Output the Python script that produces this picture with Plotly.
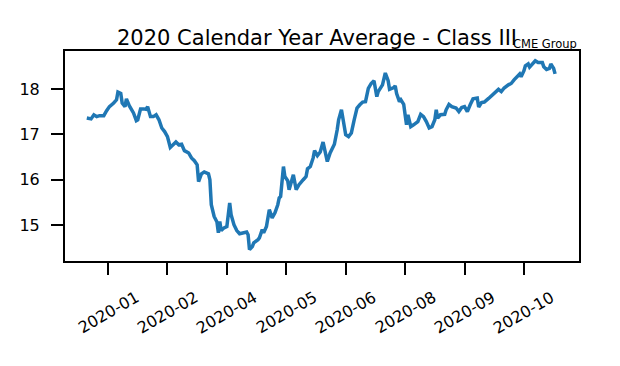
import plotly.graph_objects as go
import pandas as pd

dates = [
    "2019-12-24", "2019-12-27", "2019-12-29", "2019-12-31", "2020-01-02", "2020-01-05", "2020-01-07",
    "2020-01-09", "2020-01-12", "2020-01-14", "2020-01-15", "2020-01-17", "2020-01-18", "2020-01-20",
    "2020-01-21", "2020-01-23", "2020-01-26", "2020-01-28", "2020-01-29", "2020-01-31", "2020-02-02",
    "2020-02-04", "2020-02-05", "2020-02-07", "2020-02-09", "2020-02-11", "2020-02-13", "2020-02-15",
    "2020-02-17", "2020-02-19", "2020-02-21", "2020-02-23", "2020-02-25", "2020-02-27", "2020-02-29",
    "2020-03-02", "2020-03-05", "2020-03-07", "2020-03-09", "2020-03-11", "2020-03-12", "2020-03-14",
    "2020-03-16", "2020-03-19", "2020-03-20", "2020-03-21", "2020-03-23", "2020-03-25", "2020-03-26",
    "2020-03-27", "2020-03-28", "2020-03-30", "2020-04-01", "2020-04-03", "2020-04-04", "2020-04-06",
    "2020-04-08", "2020-04-10", "2020-04-13", "2020-04-15", "2020-04-16", "2020-04-17", "2020-04-19",
    "2020-04-20", "2020-04-23", "2020-04-24", "2020-04-26", "2020-04-27", "2020-04-29", "2020-05-01",
    "2020-05-03", "2020-05-05", "2020-05-07", "2020-05-08", "2020-05-09", "2020-05-11", "2020-05-12",
    "2020-05-14", "2020-05-15", "2020-05-18", "2020-05-20", "2020-05-22", "2020-05-25", "2020-05-27",
    "2020-05-28", "2020-05-30", "2020-06-01", "2020-06-02", "2020-06-04", "2020-06-06", "2020-06-08",
    "2020-06-09", "2020-06-11", "2020-06-13", "2020-06-15", "2020-06-16", "2020-06-18", "2020-06-19",
    "2020-06-21", "2020-06-22", "2020-06-24", "2020-06-26", "2020-06-28", "2020-06-30", "2020-07-02",
    "2020-07-04", "2020-07-06", "2020-07-08", "2020-07-10", "2020-07-12", "2020-07-14", "2020-07-16",
    "2020-07-17", "2020-07-20", "2020-07-21", "2020-07-22", "2020-07-24", "2020-07-25", "2020-07-28",
    "2020-07-29", "2020-07-30", "2020-08-01", "2020-08-02", "2020-08-04", "2020-08-05", "2020-08-06",
    "2020-08-07", "2020-08-09", "2020-08-11", "2020-08-14", "2020-08-16", "2020-08-18", "2020-08-20",
    "2020-08-22", "2020-08-24", "2020-08-26", "2020-08-27", "2020-08-28", "2020-08-30", "2020-09-02",
    "2020-09-03", "2020-09-05", "2020-09-07", "2020-09-10", "2020-09-12", "2020-09-14", "2020-09-16",
    "2020-09-18", "2020-09-20", "2020-09-22", "2020-09-25", "2020-09-26", "2020-09-28", "2020-09-30",
    "2020-10-03", "2020-10-06", "2020-10-08", "2020-10-10", "2020-10-12", "2020-10-14", "2020-10-17",
    "2020-10-19", "2020-10-21", "2020-10-23", "2020-10-25", "2020-10-26", "2020-10-28", "2020-10-29",
    "2020-10-31", "2020-11-01", "2020-11-03", "2020-11-05", "2020-11-07", "2020-11-10", "2020-11-11",
    "2020-11-13", "2020-11-15", "2020-11-16", "2020-11-18", "2020-11-19",
]

prices = [
    17.36, 17.34, 17.43, 17.39, 17.41, 17.41, 17.52,
    17.61, 17.69, 17.76, 17.93, 17.90, 17.69, 17.61,
    17.78, 17.63, 17.47, 17.30, 17.32, 17.56, 17.56,
    17.55, 17.61, 17.39, 17.39, 17.43, 17.32, 17.14,
    17.06, 16.95, 16.71, 16.77, 16.83, 16.77, 16.78,
    16.64, 16.59, 16.48, 16.42, 16.33, 15.96, 16.13,
    16.17, 16.13, 16.00, 15.45, 15.19, 15.07, 14.83,
    15.08, 14.88, 14.94, 14.97, 15.49, 15.23, 15.01,
    14.88, 14.81, 14.83, 14.85, 14.79, 14.46, 14.53,
    14.61, 14.68, 14.72, 14.90, 14.83, 14.97, 15.34,
    15.16, 15.27, 15.45, 15.60, 15.63, 16.29, 16.07,
    15.98, 15.78, 16.11, 15.78, 15.89, 16.00, 16.07,
    16.24, 16.29, 16.48, 16.64, 16.53, 16.61, 16.83,
    16.70, 16.40, 16.59, 16.70, 16.78, 17.10, 17.32,
    17.54, 17.36, 16.99, 16.95, 17.03, 17.32, 17.58,
    17.65, 17.71, 17.72, 18.01, 18.12, 18.18, 17.83,
    17.94, 18.09, 18.20, 18.35, 18.18, 17.99, 18.03,
    18.07, 17.90, 17.72, 17.76, 17.66, 17.43, 17.21,
    17.43, 17.17, 17.21, 17.28, 17.44, 17.39, 17.28,
    17.14, 17.17, 17.32, 17.54, 17.36, 17.43, 17.44,
    17.54, 17.66, 17.61, 17.58, 17.50, 17.59, 17.61,
    17.50, 17.65, 17.78, 17.80, 17.60, 17.70, 17.71,
    17.79, 17.87, 17.94, 17.99, 17.94, 18.02, 18.09,
    18.12, 18.20, 18.26, 18.33, 18.27, 18.40, 18.51,
    18.55, 18.48, 18.56, 18.62, 18.58, 18.58, 18.49,
    18.43, 18.45, 18.55, 18.45, 18.33,
]

title_text = "2020 Calendar Year Average - Class III"
source_text = "CME Group"
y_ticks = [15, 16, 17, 18]
x_tick_dates = pd.date_range("2020-01-08", periods=8, freq="42D")
x_tick_labels = [d.strftime("%Y-%m") for d in x_tick_dates]

FONT = "DejaVu Sans"

fig = go.Figure()
fig.add_trace(go.Scatter(
    x=pd.to_datetime(dates), y=prices, mode="lines",
    line=dict(color="#1f77b4", width=3.5), showlegend=False,
))

for d, lab in zip(x_tick_dates, x_tick_labels):
    fig.add_annotation(
        x=d, xref="x", y=-0.243, yref="paper", text=lab, showarrow=False,
        textangle=-30, xanchor="center", yanchor="middle",
        font=dict(family=FONT, size=16, color="black"),
    )

fig.add_annotation(
    x=0.4912, xref="paper", y=1.0, yref="paper", yshift=1, text=title_text,
    showarrow=False, xanchor="center", yanchor="bottom", borderpad=0, borderwidth=0,
    font=dict(family=FONT, size=21, color="black"),
)
fig.add_annotation(
    x=1.0, xref="paper", y=1.0, yref="paper", xshift=-2, yshift=0, text=source_text,
    showarrow=False, xanchor="right", yanchor="bottom", borderpad=0, borderwidth=0,
    font=dict(family=FONT, size=11.5, color="black"),
)

fig.update_layout(
    width=612, height=358,
    margin=dict(l=57, r=41, t=43, b=105),
    paper_bgcolor="white", plot_bgcolor="white",
    font=dict(family=FONT, size=16, color="black"),
    xaxis=dict(
        type="date",
        range=["2019-12-08 14:00", "2020-12-05 22:00"],
        tickmode="array", tickvals=list(x_tick_dates), ticktext=x_tick_labels,
        showticklabels=False,
        ticks="outside", ticklen=12, tickwidth=2, tickcolor="black",
        showline=True, linewidth=2, linecolor="black", mirror=True,
        showgrid=False, zeroline=False,
    ),
    yaxis=dict(
        range=[14.21, 18.835],
        tickmode="array", tickvals=y_ticks,
        ticks="outside", ticklen=12, tickwidth=2, tickcolor="black",
        ticklabelstandoff=8,
        showline=True, linewidth=2, linecolor="black", mirror=True,
        showgrid=False, zeroline=False,
        tickfont=dict(family=FONT, size=16, color="black"),
    ),
)

fig.write_html("out.html")
